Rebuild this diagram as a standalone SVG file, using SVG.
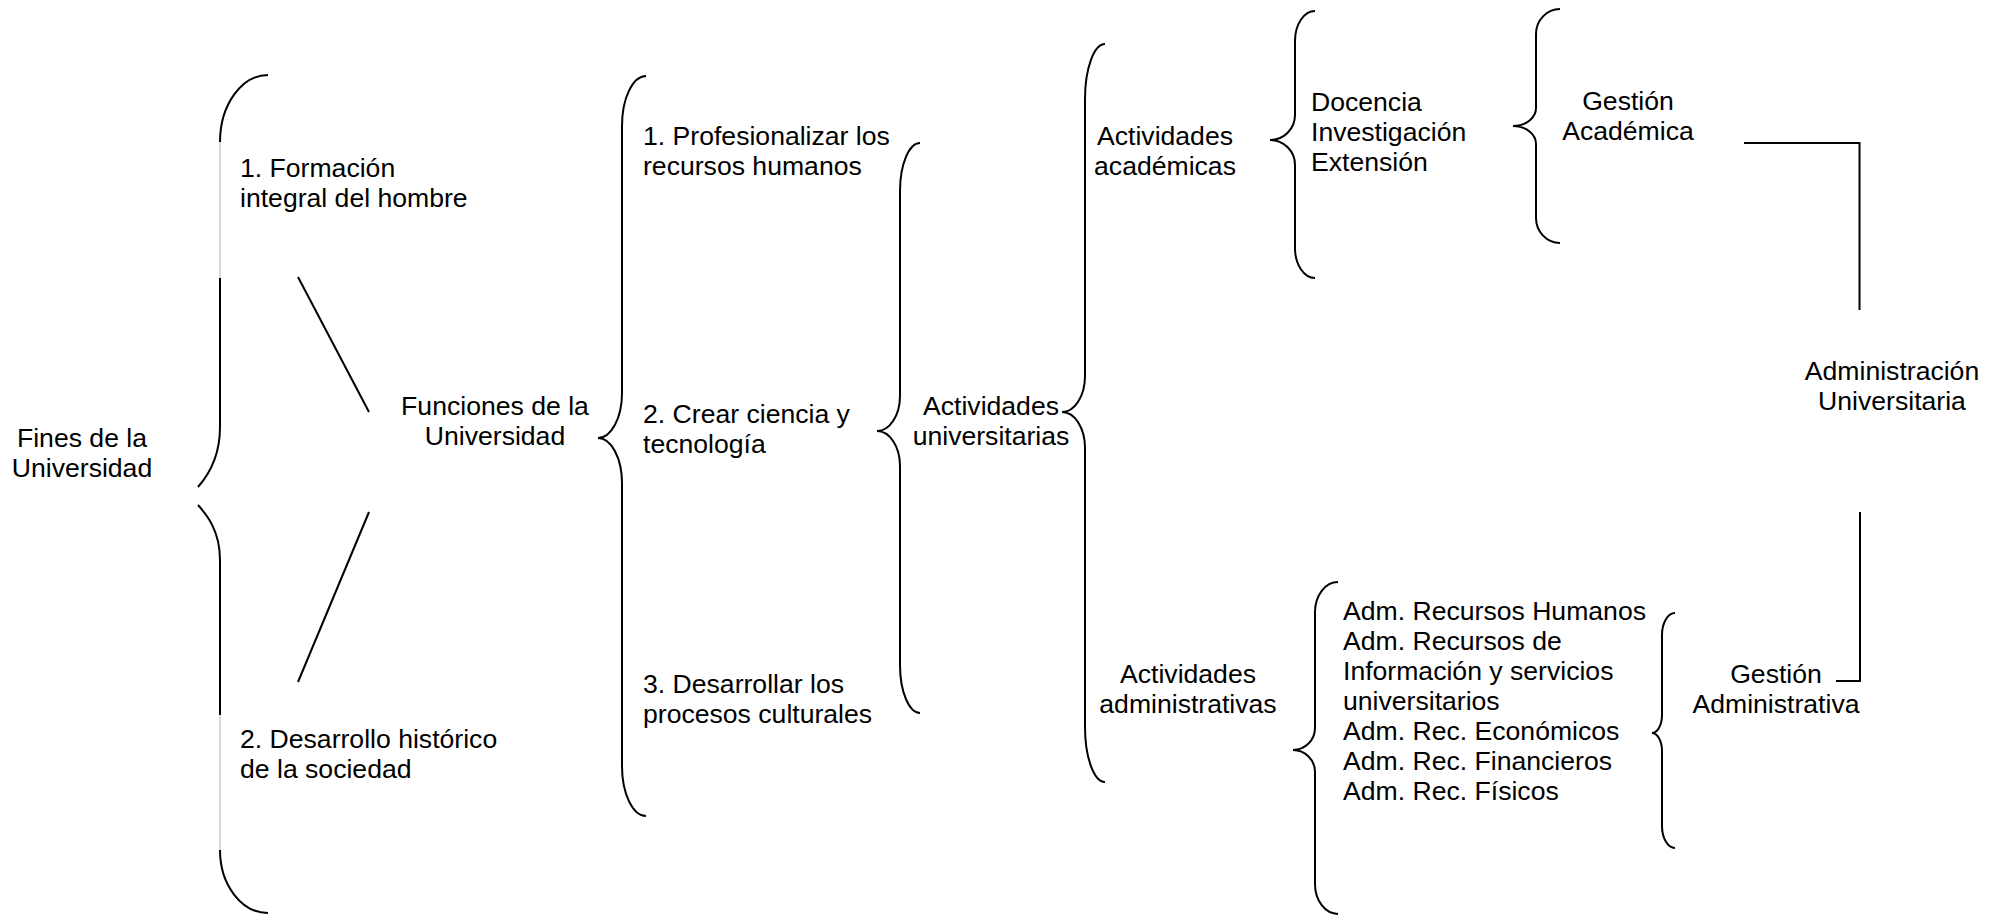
<svg xmlns="http://www.w3.org/2000/svg" width="2004" height="917" viewBox="0 0 2004 917">
<style>
.t{font-family:"Liberation Sans",Arial,sans-serif;font-size:26.6px;fill:#000}
.c{text-anchor:middle}
.ln{fill:none;stroke:#000;stroke-width:2}
.gr{fill:none;stroke:#cccccc;stroke-width:1.5}
</style>
<rect width="2004" height="917" fill="#fff"/>
<g id="connectors">
<g id="braces">
<path class="ln" d="M268,75 C241.5,75 220,105 220,142"/>
<path class="gr" d="M220,142 L220,278"/>
<path class="ln" d="M220,278 L220,427 C220,460 206,478 198,487"/>
<path class="ln" d="M198,505 C206,514 220,530 220,560 L220,715"/>
<path class="gr" d="M220,715 L220,850"/>
<path class="ln" d="M220,850 C220,884.8 241.5,913 268,913"/>
<path class="ln" d="M646,76 C632.75,76 622,98.4 622,126 L622,393 C622,417.84 611.25,438 598,438 C611.25,438 622,458.16 622,483 L622,766 C622,793.6 632.75,816 646,816"/>
<path class="ln" d="M920,143 C908.96,143 900,164.5 900,191 L900,396 C900,415.3 889.7,431 877,431 C889.7,431 900,446.7 900,466 L900,665 C900,691.5 908.96,713 920,713"/>
<path class="ln" d="M1105,44 C1093.96,44 1085,68.6 1085,99 L1085,376 C1085,395.9 1074.7,412 1062,412 C1074.7,412 1085,428.1 1085,448 L1085,727 C1085,757.4 1093.96,782 1105,782"/>
<path class="ln" d="M1315,11 C1303.96,11 1295,24.4 1295,41 L1295,115 C1295,128.8 1283.8,140 1270,140 C1283.8,140 1295,151.2 1295,165 L1295,248 C1295,264.6 1303.96,278 1315,278"/>
<path class="ln" d="M1560,9 C1546.75,9 1536,20.2 1536,34 L1536,108 C1536,117.9 1525.7,126 1513,126 C1525.7,126 1536,134.1 1536,144 L1536,218 C1536,231.8 1546.75,243 1560,243"/>
<path class="ln" d="M1675,613 C1667.82,613 1662,622.9 1662,635 L1662,715 C1662,724.9 1657.5,733 1652,733 C1657.5,733 1662,741.1 1662,751 L1662,826 C1662,838.1 1667.82,848 1675,848"/>
<path class="ln" d="M1338,582 C1325.3,582 1315,595.4 1315,612 L1315,728 C1315,740.1 1305.1,750 1293,750 C1305.1,750 1315,759.9 1315,772 L1315,884 C1315,900.6 1325.3,914 1338,914"/>
</g>
<line class="ln" x1="298" y1="277" x2="369" y2="412"/>
<line class="ln" x1="369" y1="512" x2="298" y2="682"/>
<polyline class="ln" points="1744,143 1859.5,143 1859.5,310"/>
<polyline class="ln" points="1860,512 1860,681 1836,681"/>
</g>
<g id="fines"><text class="t c" x="82" y="447">Fines de la</text><text class="t c" x="82" y="477">Universidad</text></g>
<g id="formacion"><text class="t" x="240" y="177">1. Formación</text><text class="t" x="240" y="207">integral del hombre</text></g>
<g id="desarrollo"><text class="t" x="240" y="748">2. Desarrollo histórico</text><text class="t" x="240" y="778">de la sociedad</text></g>
<g id="funciones"><text class="t c" x="495" y="415">Funciones de la</text><text class="t c" x="495" y="445">Universidad</text></g>
<g id="profesionalizar"><text class="t" x="643" y="145">1. Profesionalizar los</text><text class="t" x="643" y="175">recursos humanos</text></g>
<g id="crear"><text class="t" x="643" y="423">2. Crear ciencia y</text><text class="t" x="643" y="453">tecnología</text></g>
<g id="desarrollar"><text class="t" x="643" y="693">3. Desarrollar los</text><text class="t" x="643" y="723">procesos culturales</text></g>
<g id="act-univ"><text class="t c" x="991" y="415">Actividades</text><text class="t c" x="991" y="445">universitarias</text></g>
<g id="act-acad"><text class="t c" x="1165" y="145">Actividades</text><text class="t c" x="1165" y="175">académicas</text></g>
<g id="act-adm"><text class="t c" x="1188" y="683">Actividades</text><text class="t c" x="1188" y="713">administrativas</text></g>
<g id="docencia"><text class="t" x="1311" y="111">Docencia</text><text class="t" x="1311" y="141">Investigación</text><text class="t" x="1311" y="171">Extensión</text></g>
<g id="adm-list">
<text class="t" x="1343" y="620">Adm. Recursos Humanos</text>
<text class="t" x="1343" y="650">Adm. Recursos de</text>
<text class="t" x="1343" y="680">Información y servicios</text>
<text class="t" x="1343" y="710">universitarios</text>
<text class="t" x="1343" y="740">Adm. Rec. Económicos</text>
<text class="t" x="1343" y="770">Adm. Rec. Financieros</text>
<text class="t" x="1343" y="800">Adm. Rec. Físicos</text>
</g>
<g id="gestion-acad"><text class="t c" x="1628" y="110">Gestión</text><text class="t c" x="1628" y="140">Académica</text></g>
<g id="gestion-adm"><text class="t c" x="1776" y="683">Gestión</text><text class="t c" x="1776" y="713">Administrativa</text></g>
<g id="admin-univ"><text class="t c" x="1892" y="380">Administración</text><text class="t c" x="1892" y="410">Universitaria</text></g>
</svg>
